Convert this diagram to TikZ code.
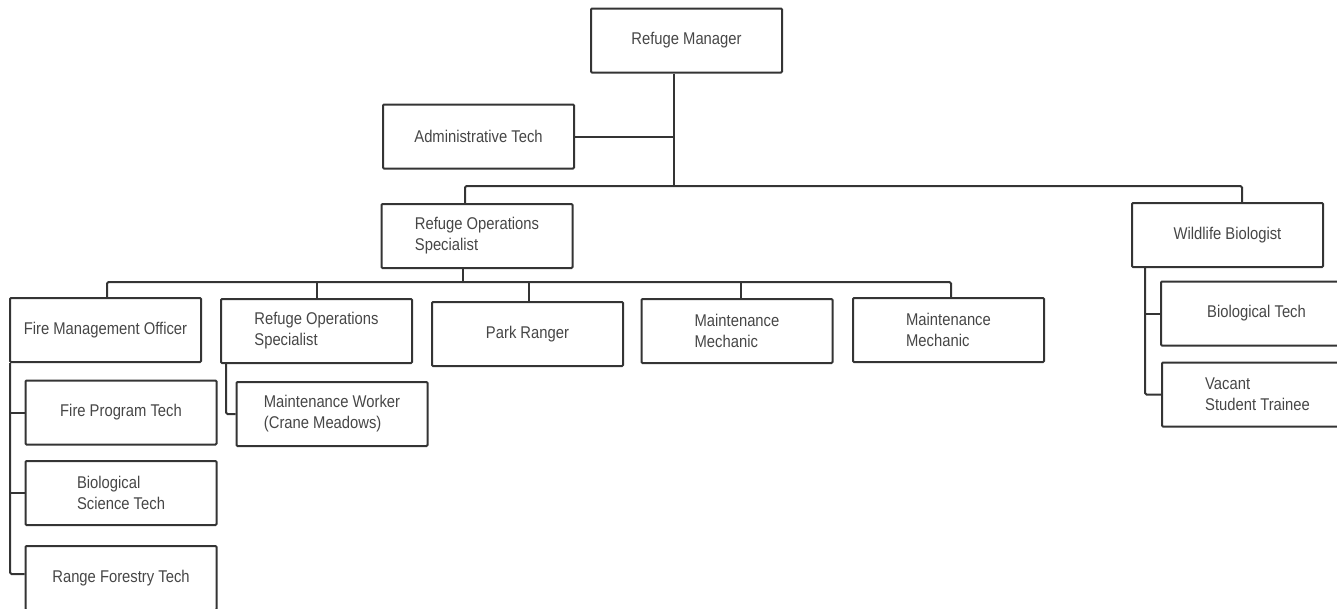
\documentclass[tikz,border=0pt]{standalone}
\usepackage{xcolor}
\usepackage{fontspec}
\setmainfont{Liberation Sans}[FakeStretch=0.87]
\usepackage{tikz}
\usetikzlibrary{positioning,calc}
\definecolor{linegray}{RGB}{52,52,52}
\definecolor{textgray}{RGB}{70,70,70}

\tikzset{
  orgbox/.style={draw=linegray, line width=2pt, rounded corners=1pt,
      minimum width=191pt, minimum height=64pt, inner sep=2pt,
      align=left, text=textgray, font=\fontsize{17}{21}\selectfont},
  link/.style={draw=linegray, line width=2pt, rounded corners=1.5pt}
}

\begin{document}
\begin{tikzpicture}[x=1pt, y=-1pt]
\clip (0,0) rectangle (1337,608);

\node[orgbox] (mgr)    at (686.5,40.5) {Refuge Manager};
\node[orgbox] (admin)  at (478.5,136.5) {Administrative Tech};
\node[orgbox] (ros)    at (477,236) {Refuge Operations\\Specialist};
\node[orgbox] (wb)     at (1227.5,235) {Wildlife Biologist};

\node[orgbox] (fmo)    at (105.5,330) {Fire Management Officer};
\node[orgbox] (ros2)   at (316.5,331) {Refuge Operations\\Specialist};
\node[orgbox] (ranger) at (527.5,334) {Park Ranger};
\node[orgbox] (mech1)  at (737,331) {Maintenance\\Mechanic};
\node[orgbox] (mech2)  at (948.5,330) {Maintenance\\Mechanic};

\node[orgbox] (fpt)    at (121,412.5) {Fire Program Tech};
\node[orgbox] (bst)    at (121,493) {Biological\\Science Tech};
\node[orgbox] (rft)    at (121,578) {Range Forestry Tech};
\node[orgbox] (mw)     at (332,414) {Maintenance Worker\\(Crane Meadows)};
\node[orgbox] (bt)     at (1256.5,313.5) {Biological Tech};
\node[orgbox] (vst)    at (1257.5,394.5) {Vacant\\Student Trainee};

\coordinate (spine) at (674,186);
\coordinate (mainL) at (465,186);
\coordinate (mainR) at (1242,186);
\coordinate (opsL)  at (107,282);
\coordinate (opsR)  at (951,282);

\draw[link] (mgr.south -| spine) -- (spine);
\draw[link] (admin.east) -- (admin.east -| spine);
\draw[link] (mainL |- ros.north) -- (mainL) -- (mainR) -- (mainR |- wb.north);

\draw[link] ([xshift=-14pt]ros.south) -- ([xshift=-14pt]ros.south |- opsL);
\draw[link] (opsL |- fmo.north) -- (opsL) -- (opsR) -- (opsR |- mech2.north);
\draw[link] (ros2.north) -- (ros2.north |- opsL);
\draw[link] ([xshift=1.5pt]ranger.north) -- ([xshift=1.5pt]ranger.north |- opsL);
\draw[link] ([xshift=4pt]mech1.north) -- ([xshift=4pt]mech1.north |- opsL);

\draw[link] ([xshift=1pt]fmo.south west) |- ([yshift=4pt]rft.west);
\draw[link] ([xshift=1pt]fmo.south west |- fpt.west) -- (fpt.west);
\draw[link] ([xshift=1pt]fmo.south west |- bst.west) -- (bst.west);

\draw[link] ([xshift=6pt]ros2.south west) |- (mw.west);

\draw[link] ([xshift=14pt]wb.south west) |- (vst.west);
\draw[link] ([xshift=14pt]wb.south west |- bt.west) -- (bt.west);
\end{tikzpicture}
\end{document}
